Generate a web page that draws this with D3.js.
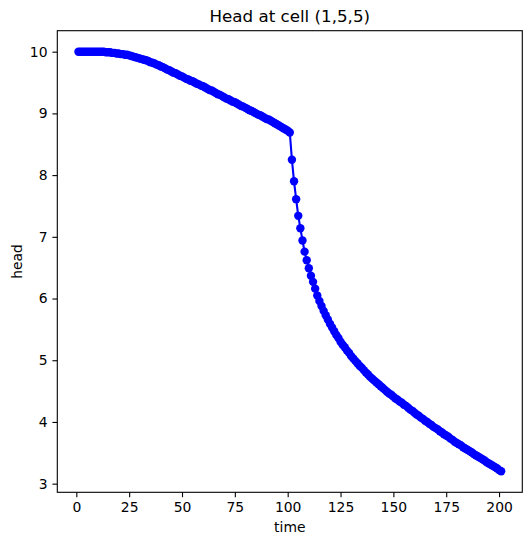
<!DOCTYPE html>
<html lang="en">
<head>
  <meta charset="utf-8">
  <title>Head at cell (1,5,5)</title>
  <script src="https://cdnjs.cloudflare.com/ajax/libs/d3/7.8.5/d3.min.js"></script>
  <style type="text/css">
  body {
    margin: 0;
    background: #fff;
  }
  text {
    font-family: 'DejaVu Sans', sans-serif;
    fill: #000;
  }
  .tick text {
    font-size: 13.9px;
  }
  </style>
</head>
<body>
  <svg id="chart"></svg>
  <script type="text/javascript">
  // time steps 1..201
  var times = d3.range(1, 202);

  // head values
  var heads = [
    10.00, 10.00, 10.00, 10.00, 10.00, 10.00, 10.00, 10.00, 10.00, 10.00, 10.00, 10.00,
    10.00, 9.99, 9.99, 9.99, 9.98, 9.98, 9.97, 9.97,
    9.96, 9.96, 9.95, 9.95, 9.94, 9.93, 9.92, 9.91, 9.90, 9.89,
    9.88, 9.87, 9.86, 9.85, 9.83, 9.82, 9.81, 9.79, 9.78, 9.76,
    9.75, 9.73, 9.71, 9.70, 9.68, 9.66, 9.65, 9.63, 9.61, 9.60,
    9.58, 9.56, 9.55, 9.53, 9.52, 9.50, 9.48, 9.47, 9.45, 9.44,
    9.42, 9.40, 9.38, 9.37, 9.35, 9.33, 9.31, 9.30, 9.28, 9.26,
    9.24, 9.23, 9.21, 9.19, 9.18, 9.16, 9.14, 9.12, 9.11, 9.09,
    9.07, 9.05, 9.04, 9.02, 9.00, 8.98, 8.97, 8.95, 8.93, 8.91,
    8.90, 8.88, 8.86, 8.84, 8.82, 8.80, 8.78, 8.76, 8.74, 8.72, 8.69,
    8.25, 7.90, 7.61, 7.34, 7.14, 6.94, 6.76, 6.62, 6.49, 6.37, 6.27, 6.16, 6.05,
    5.96, 5.88, 5.80, 5.73, 5.66, 5.59, 5.53, 5.47, 5.41, 5.36, 5.30,
    5.25, 5.21, 5.16, 5.12, 5.07, 5.03, 4.99, 4.95, 4.91, 4.88,
    4.84, 4.80, 4.77, 4.73, 4.70, 4.67, 4.64, 4.61, 4.58, 4.55,
    4.52, 4.49, 4.46, 4.44, 4.41, 4.38, 4.36, 4.33, 4.31, 4.28,
    4.26, 4.23, 4.20, 4.18, 4.15,
    4.12, 4.10, 4.07, 4.05, 4.02, 4.00, 3.97, 3.95, 3.92, 3.90,
    3.88, 3.85, 3.83, 3.80, 3.78, 3.76, 3.73, 3.71, 3.68, 3.66,
    3.64, 3.62, 3.59, 3.57, 3.55, 3.53, 3.51, 3.48, 3.46, 3.44,
    3.42, 3.40, 3.38, 3.35, 3.33, 3.31, 3.29, 3.27, 3.25, 3.22, 3.20
  ];

  var xTicks = [0, 25, 50, 75, 100, 125, 150, 175, 200];
  var yTicks = [3, 4, 5, 6, 7, 8, 9, 10];

  var data = times.map(function(t, i) { return { t: t, h: heads[i] }; });

  var w = 532;
  var h = 545;
  var margin = { top: 30.7, right: 9.7, bottom: 52.7, left: 57.3 };

  var svg = d3.select("#chart")
    .attr("width", w)
    .attr("height", h);

  // matplotlib style 5% margins
  var xmin = d3.min(times), xmax = d3.max(times);
  var ymin = d3.min(heads), ymax = d3.max(heads);
  var xpad = (xmax - xmin) * 0.05, ypad = (ymax - ymin) * 0.05;

  var x = d3.scaleLinear()
    .domain([xmin - xpad, xmax + xpad])
    .range([margin.left, w - margin.right]);

  var y = d3.scaleLinear()
    .domain([ymin - ypad, ymax + ypad])
    .range([h - margin.bottom, margin.top]);

  var g = svg.append("g");

  // the series
  var line = d3.line()
    .x(function(d) { return x(d.t); })
    .y(function(d) { return y(d.h); });

  g.append("path")
    .datum(data)
    .attr("d", line)
    .attr("fill", "none")
    .attr("stroke", "#0000ff")
    .attr("stroke-width", 2.1);

  g.selectAll("circle")
    .data(data)
    .enter()
    .append("circle")
    .attr("cx", function(d) { return x(d.t); })
    .attr("cy", function(d) { return y(d.h); })
    .attr("r", 4.2)
    .attr("fill", "#0000ff");

  // axes
  var xAxis = d3.axisBottom(x)
    .tickValues(xTicks)
    .tickSizeInner(4.9)
    .tickSizeOuter(0)
    .tickPadding(4.9);

  var yAxis = d3.axisLeft(y)
    .tickValues(yTicks)
    .tickSizeInner(4.9)
    .tickSizeOuter(0)
    .tickPadding(4.9);

  var gx = svg.append("g")
    .attr("transform", "translate(0," + (h - margin.bottom) + ")")
    .call(xAxis);
  var gy = svg.append("g")
    .attr("transform", "translate(" + margin.left + ",0)")
    .call(yAxis);

  [gx, gy].forEach(function(a) {
    a.select(".domain").remove();
    a.selectAll(".tick line").attr("stroke", "#000").attr("stroke-width", 1.1);
    a.selectAll(".tick text").attr("font-family", null).attr("font-size", null);
  });

  // frame
  svg.append("rect")
    .attr("x", margin.left)
    .attr("y", margin.top)
    .attr("width", w - margin.left - margin.right)
    .attr("height", h - margin.top - margin.bottom)
    .attr("fill", "none")
    .attr("stroke", "#000")
    .attr("stroke-width", 1.1);

  // title and labels
  svg.append("text")
    .attr("x", (margin.left + w - margin.right) / 2)
    .attr("y", margin.top - 8.3)
    .attr("text-anchor", "middle")
    .style("font-size", "16.7px")
    .text("Head at cell (1,5,5)");

  svg.append("text")
    .attr("x", (margin.left + w - margin.right) / 2)
    .attr("y", 532)
    .attr("text-anchor", "middle")
    .style("font-size", "13.9px")
    .text("time");

  svg.append("text")
    .attr("transform", "translate(22," + ((margin.top + h - margin.bottom) / 2) + ") rotate(-90)")
    .attr("text-anchor", "middle")
    .style("font-size", "13.9px")
    .text("head");
  </script>
</body>
</html>
